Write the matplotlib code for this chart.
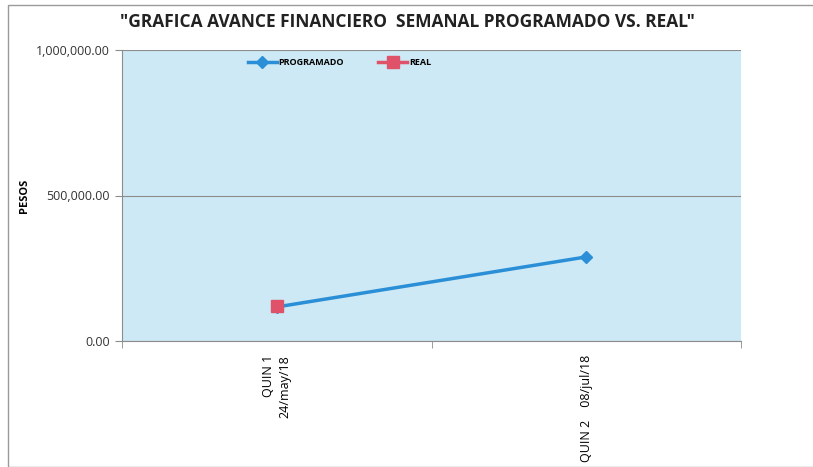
import matplotlib.pyplot as plt
from matplotlib.patches import Rectangle
from matplotlib.ticker import FuncFormatter, FixedLocator

categories = ["QUIN 1\n24/may/18", "QUIN 2    08/jul/18"]
programado = [117000, 289000]
real = [121000]

plt.rcParams['font.family'] = ['Open Sans', 'DejaVu Sans']

fig = plt.figure(figsize=(8.13, 4.67), dpi=100)
W, H = 813, 467

# chart frame
fig.patches.append(Rectangle((8 / W, 0), 1, 1 - 5 / H, transform=fig.transFigure,
                             fill=False, edgecolor='#9a9a9a', linewidth=1.0))

ax = fig.add_axes([122 / W, 1 - 341 / H, (741 - 122) / W, (341 - 50) / H])
ax.set_facecolor('#cde9f5')

x_prog = list(range(len(programado)))
x_real = list(range(len(real)))
ax.plot(x_prog, programado, color='#2a8fd6', linewidth=2.5, marker='D',
        markersize=6, label='PROGRAMADO', zorder=3)
ax.plot(x_real, real, color='#e0526a', linewidth=2.5, marker='s',
        markersize=8, label='REAL', zorder=4)

ax.set_xlim(-0.5, len(categories) - 0.5)
ax.set_ylim(0, 1000000)
ax.set_yticks([0, 500000, 1000000])
ax.yaxis.set_major_formatter(FuncFormatter(lambda v, p: f"{v:,.2f}"))
ax.yaxis.grid(True, color='#8c8c8c', linewidth=0.8)
ax.set_axisbelow(True)

ax.set_xticks(range(len(categories)))
ax.set_xticklabels(categories, rotation=90, fontsize=9, va='top', ha='center',
                   linespacing=1.35, multialignment='right')
ax.xaxis.set_minor_locator(FixedLocator([-0.5, 0.5, 1.5]))
ax.tick_params(axis='x', which='major', length=0, pad=10)
ax.tick_params(axis='x', which='minor', length=5, color='#8c8c8c')
ax.tick_params(axis='y', length=5, color='#8c8c8c', labelsize=9, pad=4,
               labelcolor='#333333')

for s in ['top', 'right']:
    ax.spines[s].set_visible(False)
for s in ['left', 'bottom']:
    ax.spines[s].set_color('#8c8c8c')

ax.set_ylabel('PESOS', fontsize=8, fontweight='bold')
ax.yaxis.set_label_coords((30 - 122) / (741 - 122), 0.5)

ax.legend(loc='upper left', bbox_to_anchor=(0.19, 1.0), ncol=2, frameon=False,
          handlelength=3.2, columnspacing=3.8, handletextpad=0.2,
          prop={'weight': 'bold', 'size': 6.5})

fig.text(0.5 + 1 / W, 1 - 22 / H, '"GRAFICA AVANCE FINANCIERO  SEMANAL PROGRAMADO VS. REAL"',
         ha='center', va='center', fontsize=12.5, fontweight='bold', color='#222222')

fig.savefig('out.png', dpi=100)
